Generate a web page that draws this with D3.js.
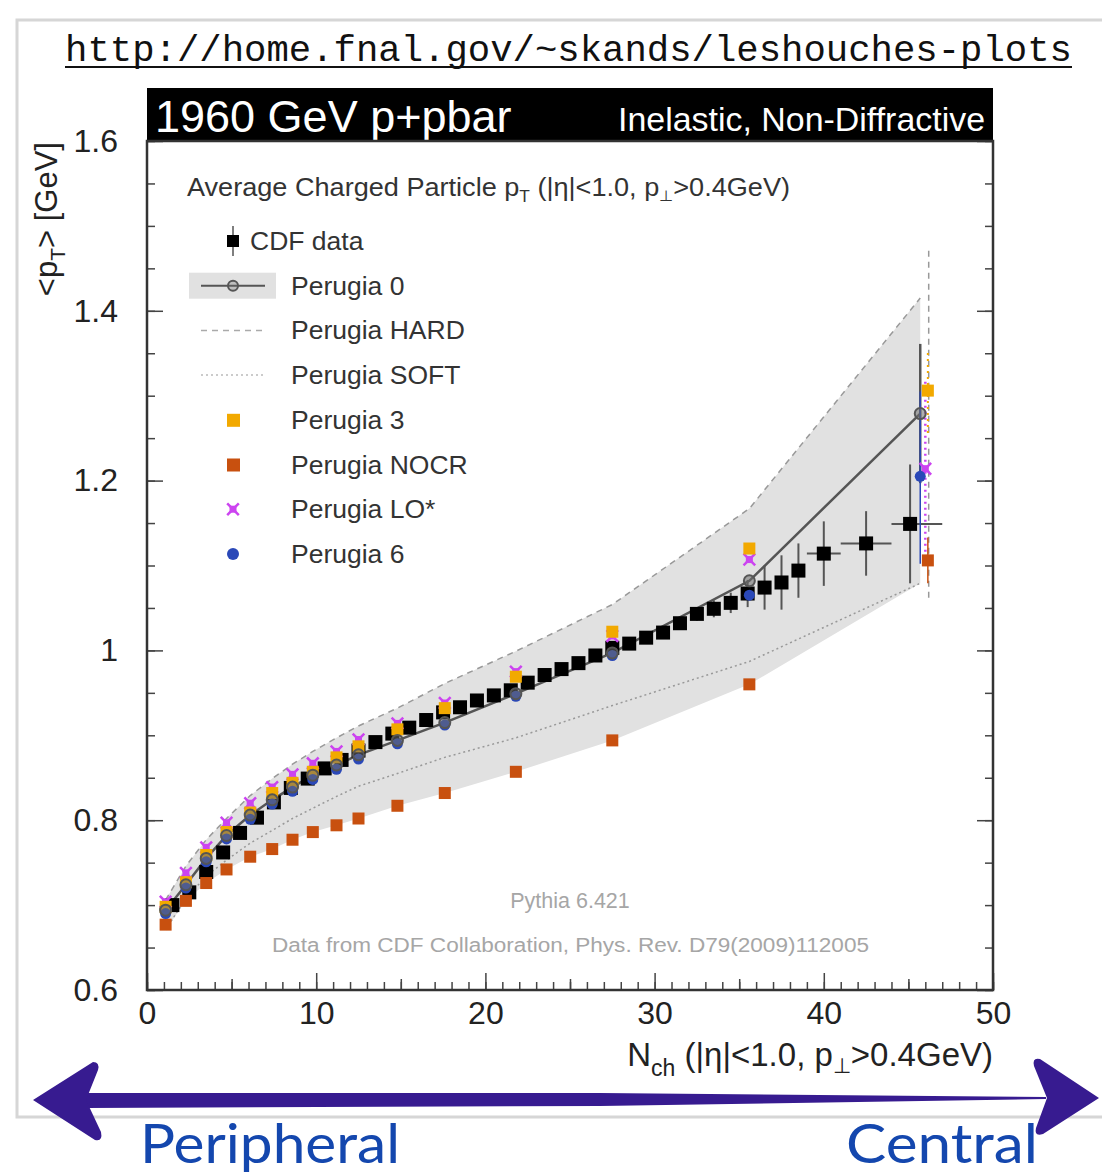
<!DOCTYPE html>
<html>
<head>
<meta charset="utf-8">
<script src="https://cdn.jsdelivr.net/npm/d3@7"></script>
<style>
body { margin: 0; background: #fff; }
text { font-family: "Liberation Sans", Arial, sans-serif; }
</style>
</head>
<body>
<div id="chart"></div>
<script>
// ---- values ----
// CDF data, <pT> vs Nch
var cdfX = [1.5, 2.5, 3.5, 4.5, 5.5, 6.5, 7.5, 8.5, 9.5, 10.5, 11.5, 12.5, 13.5, 14.5, 15.5, 16.5,
    17.5, 18.5, 19.5, 20.5, 21.5, 22.5, 23.5, 24.5, 25.5, 26.5, 27.5, 28.5, 29.5, 30.5, 31.5, 32.5,
    33.5, 34.5, 35.5, 36.5, 37.5, 38.5, 40, 42.5, 45.1];
var cdfY = [0.700, 0.715, 0.739, 0.762, 0.785, 0.803, 0.821, 0.838, 0.849, 0.861, 0.871, 0.882,
    0.892, 0.902, 0.909, 0.918, 0.927, 0.933, 0.941, 0.947, 0.953, 0.962, 0.971, 0.978, 0.985,
    0.994, 1.003, 1.008, 1.015, 1.021, 1.032, 1.043, 1.049, 1.056, 1.067, 1.074, 1.080, 1.094,
    1.114, 1.126, 1.149];
var cdfErr = [0.003, 0.003, 0.003, 0.003, 0.003, 0.003, 0.003, 0.003, 0.003, 0.003, 0.003, 0.003,
    0.003, 0.003, 0.003, 0.003, 0.003, 0.003, 0.003, 0.003, 0.003, 0.004, 0.004, 0.004, 0.004,
    0.005, 0.005, 0.005, 0.006, 0.006, 0.007, 0.008, 0.010, 0.012, 0.016, 0.026, 0.032, 0.032,
    0.038, 0.038, 0.070];
// wide bins at the end (last three points)
var cdfWideBins = [[39, 41], [41, 44], [44, 47]];

// generator tunes, same Nch bins
var mcX = [1.1, 2.3, 3.5, 4.7, 6.1, 7.4, 8.6, 9.8, 11.2, 12.5, 14.8, 17.6, 21.8, 27.5, 35.6, 45.7];
var perugia0 = [0.694, 0.724, 0.755, 0.782, 0.806, 0.824, 0.839, 0.853, 0.865, 0.877, 0.894, 0.915, 0.949, 0.997, 1.082, 1.279];
var perugiaHard = [0.706, 0.746, 0.777, 0.802, 0.829, 0.849, 0.866, 0.881, 0.897, 0.911, 0.932, 0.961, 0.999, 1.054, 1.167, 1.415];
var perugiaSoft = [0.671, 0.708, 0.734, 0.753, 0.773, 0.788, 0.802, 0.814, 0.828, 0.840, 0.855, 0.874, 0.897, 0.935, 0.987, 1.079];
var perugia3 = [0.698, 0.727, 0.759, 0.786, 0.809, 0.832, 0.844, 0.857, 0.874, 0.887, 0.907, 0.932, 0.969, 1.022, 1.120, 1.306];
var perugiaNocr = [0.677, 0.705, 0.726, 0.742, 0.757, 0.766, 0.777, 0.786, 0.794, 0.802, 0.817, 0.832, 0.857, 0.894, 0.960, 1.106];
var perugiaLo = [0.704, 0.738, 0.768, 0.797, 0.820, 0.839, 0.854, 0.867, 0.881, 0.895, 0.914, 0.938, 0.975, 1.017, 1.107, 1.214];
var perugia6 = [0.690, 0.720, 0.751, 0.778, 0.801, 0.819, 0.834, 0.848, 0.860, 0.872, 0.890, 0.912, 0.946, 0.994, 1.065, 1.205];

// last-bin statistical errors, order: P0, HARD, SOFT, P3, NOCR, LO*, P6
var lastBinX = [45.7, 46.2, 46.2, 46.15, 46.15, 46.0, 45.7];
var lastErrDown = [0.082, 0.353, 0, 0.050, 0.027, 0.112, 0.103];
var lastErrUp = [0.082, 0.059, 0, 0.047, 0.027, 0.107, 0.100];

var legendLabels = ['CDF data', 'Perugia 0', 'Perugia HARD', 'Perugia SOFT', 'Perugia 3', 'Perugia NOCR', 'Perugia LO*', 'Perugia 6'];
var xTicks = [0, 10, 20, 30, 40, 50];
var yTicks = [0.6, 0.8, 1, 1.2, 1.4, 1.6];

// ---- page ----
var width = 1102, height = 1176;
var svg = d3.select('#chart').append('svg')
    .attr('width', width)
    .attr('height', height);

// faint outer border of the slide picture
svg.append('path')
    .attr('d', 'M1102,20 H17 V1117 H1102')
    .attr('fill', 'none')
    .attr('stroke', '#d6d6d6')
    .attr('stroke-width', 3);

// url on top
svg.append('text')
    .text('http://home.fnal.gov/~skands/leshouches-plots')
    .attr('x', 65).attr('y', 61)
    .attr('textLength', 1007).attr('lengthAdjust', 'spacingAndGlyphs')
    .style('font-family', '"Liberation Mono", "DejaVu Sans Mono", monospace')
    .style('font-size', '37px')
    .attr('fill', '#111');
svg.append('line')
    .attr('x1', 65).attr('x2', 1072).attr('y1', 67).attr('y2', 67)
    .attr('stroke', '#111').attr('stroke-width', 2);

var x = d3.scaleLinear().domain([0, 50]).range([147, 993]);
var y = d3.scaleLinear().domain([0.6, 1.6]).range([990, 141]);

// black header strip
svg.append('rect')
    .attr('x', 147).attr('y', 88).attr('width', 846).attr('height', 53)
    .attr('fill', '#000');
svg.append('text').text('1960 GeV p+pbar')
    .attr('x', 155).attr('y', 132)
    .attr('fill', '#fff').style('font-size', '45px');
svg.append('text').text('Inelastic, Non-Diffractive')
    .attr('x', 985).attr('y', 131)
    .attr('text-anchor', 'end')
    .attr('textLength', 367).attr('lengthAdjust', 'spacingAndGlyphs')
    .attr('fill', '#fff').style('font-size', '33px');

// tunes envelope band
var tunes = [perugia0, perugiaHard, perugiaSoft, perugia3, perugiaNocr, perugiaLo, perugia6];
var band = mcX.map(function (v, i) {
    return {x: v, lo: d3.min(tunes, function (t) { return t[i]; }), hi: d3.max(tunes, function (t) { return t[i]; })};
});
svg.append('path')
    .datum(band)
    .attr('fill', '#e1e1e1')
    .attr('d', d3.area().x(function (d) { return x(d.x); })
        .y0(function (d) { return y(d.lo); })
        .y1(function (d) { return y(d.hi); }));

// axes, ROOT style ticks pointing inward
var axisG = svg.append('g').attr('class', 'axes');
function styleAxis(g) {
    g.select('.domain').remove();
    g.selectAll('line').attr('stroke', '#444').attr('stroke-width', 1.5);
    g.selectAll('text').style('font-size', '32px').attr('fill', '#222')
        .style('font-family', '"Liberation Sans", Arial, sans-serif');
}
axisG.append('g').attr('transform', 'translate(0,990)')
    .call(d3.axisBottom(x).tickValues(d3.range(0, 51, 1)).tickSize(-8).tickFormat(''))
    .call(styleAxis);
axisG.append('g').attr('transform', 'translate(0,990)')
    .call(d3.axisBottom(x).tickValues(d3.range(5, 50, 10)).tickSize(-11).tickFormat(''))
    .call(styleAxis);
axisG.append('g').attr('transform', 'translate(0,990)')
    .call(d3.axisBottom(x).tickValues(xTicks).tickSize(-17).tickPadding(11).tickFormat(d3.format('d')))
    .call(styleAxis);
axisG.append('g').attr('transform', 'translate(147,0)')
    .call(d3.axisLeft(y).tickValues(d3.range(0.6, 1.601, 0.05)).tickSize(-8).tickFormat(''))
    .call(styleAxis);
axisG.append('g').attr('transform', 'translate(147,0)')
    .call(d3.axisLeft(y).tickValues(yTicks).tickSize(-16).tickPadding(29).tickFormat(d3.format('~g')))
    .call(styleAxis);
axisG.append('g').attr('transform', 'translate(993,0)')
    .call(d3.axisRight(y).tickValues(d3.range(0.6, 1.601, 0.05)).tickSize(-8).tickFormat(''))
    .call(styleAxis);
axisG.append('g').attr('transform', 'translate(993,0)')
    .call(d3.axisRight(y).tickValues(yTicks).tickSize(-16).tickFormat(''))
    .call(styleAxis);

// frame
svg.append('rect')
    .attr('x', 147).attr('y', 141).attr('width', 846).attr('height', 849)
    .attr('fill', 'none').attr('stroke', '#333').attr('stroke-width', 2.5);

// axis titles
var xTitle = svg.append('text')
    .attr('x', 993).attr('y', 1066)
    .attr('text-anchor', 'end')
    .attr('fill', '#222').style('font-size', '33px');
xTitle.append('tspan').text('N');
xTitle.append('tspan').text('ch').attr('dy', 10).style('font-size', '23px');
xTitle.append('tspan').text(' (|η|<1.0, p').attr('dy', -10);
xTitle.append('tspan').text('⊥').attr('dy', 7).style('font-size', '21px');
xTitle.append('tspan').text('>0.4GeV)').attr('dy', -7);

var yTitle = svg.append('text')
    .attr('transform', 'translate(57,142) rotate(-90)')
    .attr('text-anchor', 'end')
    .attr('fill', '#222').style('font-size', '31px');
yTitle.append('tspan').text('<p');
yTitle.append('tspan').text('T').attr('dy', 8).style('font-size', '21px');
yTitle.append('tspan').text('> [GeV]').attr('dy', -8);

// tune lines
var line = d3.line().x(function (d) { return x(d[0]); }).y(function (d) { return y(d[1]); });
function pairs(arr) { return mcX.map(function (v, i) { return [v, arr[i]]; }); }

svg.append('path').attr('d', line(pairs(perugiaSoft)))
    .attr('fill', 'none').attr('stroke', '#999').attr('stroke-width', 1.5)
    .attr('stroke-dasharray', '2,3');
svg.append('path').attr('d', line(pairs(perugiaHard)))
    .attr('fill', 'none').attr('stroke', '#999').attr('stroke-width', 1.5)
    .attr('stroke-dasharray', '6,5');
svg.append('path').attr('d', line(pairs(perugia0)))
    .attr('fill', 'none').attr('stroke', '#555').attr('stroke-width', 2.5);

// CDF data points
var cdf = svg.append('g');
cdfX.forEach(function (v, i) {
    cdf.append('line')
        .attr('x1', x(v)).attr('x2', x(v))
        .attr('y1', y(cdfY[i] - cdfErr[i])).attr('y2', y(cdfY[i] + cdfErr[i]))
        .attr('stroke', '#555').attr('stroke-width', 2);
});
cdfWideBins.forEach(function (b, k) {
    var i = cdfX.length - cdfWideBins.length + k;
    cdf.append('line')
        .attr('x1', x(b[0])).attr('x2', x(b[1]))
        .attr('y1', y(cdfY[i])).attr('y2', y(cdfY[i]))
        .attr('stroke', '#555').attr('stroke-width', 2);
});
cdfX.forEach(function (v, i) {
    cdf.append('rect')
        .attr('x', x(v) - 7).attr('y', y(cdfY[i]) - 7)
        .attr('width', 14).attr('height', 14)
        .attr('fill', '#000');
});

// last bin error bars for the tunes
var errStyles = [
    {c: '#555', w: 2.5, dash: null},
    {c: '#999', w: 1.5, dash: '6,5'},
    {c: '#999', w: 1.5, dash: '2,3'},
    {c: '#f2a900', w: 2, dash: '2,4'},
    {c: '#c8500f', w: 1.5, dash: null},
    {c: '#cc44f0', w: 2.5, dash: '2,4'},
    {c: '#2a48b8', w: 1.5, dash: null}
];
tunes.forEach(function (t, k) {
    if (!lastErrUp[k] && !lastErrDown[k]) return;
    var v = t[t.length - 1];
    svg.append('line')
        .attr('x1', x(lastBinX[k])).attr('x2', x(lastBinX[k]))
        .attr('y1', y(v - lastErrDown[k])).attr('y2', y(v + lastErrUp[k]))
        .attr('stroke', errStyles[k].c).attr('stroke-width', errStyles[k].w)
        .attr('stroke-dasharray', errStyles[k].dash);
});

function xAt(i, k) { return i === mcX.length - 1 ? x(lastBinX[k]) : x(mcX[i]); }

// Perugia LO*
var crossSym = d3.symbol().type(d3.symbolTimes || d3.symbolCross).size(90);
var lo = svg.append('g');
perugiaLo.forEach(function (v, i) {
    var cx = xAt(i, 5);
    lo.append('path').attr('d', crossSym())
        .attr('transform', 'translate(' + cx + ',' + y(v) + ')')
        .attr('fill', 'none').attr('stroke', '#cc44f0').attr('stroke-width', 2.5);
    lo.append('rect').attr('x', cx - 3.5).attr('y', y(v) - 3.5).attr('width', 7).attr('height', 7)
        .attr('fill', '#cc44f0');
});

// Perugia 3 and NOCR squares
perugia3.forEach(function (v, i) {
    svg.append('rect').attr('x', xAt(i, 3) - 6).attr('y', y(v) - 6)
        .attr('width', 12).attr('height', 12).attr('fill', '#f2a900');
});
perugiaNocr.forEach(function (v, i) {
    svg.append('rect').attr('x', xAt(i, 4) - 6).attr('y', y(v) - 6)
        .attr('width', 12).attr('height', 12).attr('fill', '#c8500f');
});

// Perugia 6 and Perugia 0 circles
perugia6.forEach(function (v, i) {
    svg.append('circle').attr('cx', xAt(i, 6)).attr('cy', y(v)).attr('r', 5.5)
        .attr('fill', '#2a48b8');
});
perugia0.forEach(function (v, i) {
    svg.append('circle').attr('cx', xAt(i, 0)).attr('cy', y(v)).attr('r', 5.5)
        .attr('fill', 'rgba(110,110,110,0.55)').attr('stroke', '#555').attr('stroke-width', 2);
});

// legend
var leg = svg.append('g');
var legTitle = leg.append('text').attr('x', 187).attr('y', 196)
    .attr('textLength', 603).attr('lengthAdjust', 'spacingAndGlyphs')
    .attr('fill', '#333').style('font-size', '25px');
legTitle.append('tspan').text('Average Charged Particle p');
legTitle.append('tspan').text('T').attr('dy', 6).style('font-size', '16px');
legTitle.append('tspan').text(' (|η|<1.0, p').attr('dy', -6);
legTitle.append('tspan').text('⊥').attr('dy', 5).style('font-size', '15px');
legTitle.append('tspan').text('>0.4GeV)').attr('dy', -5);

var legY = function (i) { return 241 + i * 44.7; };
legendLabels.forEach(function (lab, i) {
    leg.append('text').text(lab)
        .attr('x', i === 0 ? 250 : 291).attr('y', legY(i) + 9)
        .attr('fill', '#333').style('font-size', '26.5px');
});
// CDF data
leg.append('line').attr('x1', 233).attr('x2', 233).attr('y1', legY(0) - 15).attr('y2', legY(0) + 15)
    .attr('stroke', '#555').attr('stroke-width', 1.5);
leg.append('rect').attr('x', 227).attr('y', legY(0) - 6).attr('width', 12).attr('height', 12).attr('fill', '#000');
// Perugia 0
leg.append('rect').attr('x', 189).attr('y', legY(1) - 13).attr('width', 87).attr('height', 26).attr('fill', '#e1e1e1');
leg.append('line').attr('x1', 201).attr('x2', 265).attr('y1', legY(1)).attr('y2', legY(1))
    .attr('stroke', '#555').attr('stroke-width', 2);
leg.append('circle').attr('cx', 233).attr('cy', legY(1)).attr('r', 5)
    .attr('fill', 'rgba(110,110,110,0.3)').attr('stroke', '#555').attr('stroke-width', 2);
// HARD, SOFT
leg.append('line').attr('x1', 201).attr('x2', 265).attr('y1', legY(2)).attr('y2', legY(2))
    .attr('stroke', '#aaa').attr('stroke-width', 1.5).attr('stroke-dasharray', '6,5');
leg.append('line').attr('x1', 201).attr('x2', 265).attr('y1', legY(3)).attr('y2', legY(3))
    .attr('stroke', '#bbb').attr('stroke-width', 1.5).attr('stroke-dasharray', '2,3');
// P3, NOCR
leg.append('rect').attr('x', 227).attr('y', legY(4) - 6).attr('width', 13).attr('height', 13).attr('fill', '#f2a900');
leg.append('rect').attr('x', 227).attr('y', legY(5) - 6).attr('width', 13).attr('height', 13).attr('fill', '#c8500f');
// LO*
leg.append('path').attr('d', crossSym()).attr('transform', 'translate(233,' + legY(6) + ')')
    .attr('fill', 'none').attr('stroke', '#cc44f0').attr('stroke-width', 2.5);
leg.append('rect').attr('x', 229.5).attr('y', legY(6) - 3.5).attr('width', 7).attr('height', 7).attr('fill', '#cc44f0');
// P6
leg.append('circle').attr('cx', 233).attr('cy', legY(7)).attr('r', 6).attr('fill', '#2a48b8');

// generator / reference notes
svg.append('text').text('Pythia 6.421')
    .attr('x', 570).attr('y', 908).attr('text-anchor', 'middle')
    .attr('fill', '#a6a6a6').style('font-size', '21.5px');
svg.append('text').text('Data from CDF Collaboration, Phys. Rev. D79(2009)112005')
    .attr('x', 272).attr('y', 952)
    .attr('textLength', 597).attr('lengthAdjust', 'spacingAndGlyphs')
    .attr('fill', '#a6a6a6').style('font-size', '20px');

// peripheral <-> central arrow
var arrowColor = '#371b90';
svg.append('path')
    .attr('d', 'M86,1093 L600,1093 L1046,1097 L1046,1099 L600,1106 L86,1108 Z')
    .attr('fill', arrowColor);
svg.append('path')
    .attr('d', 'M33,1100 L93,1062 Q100,1062 98,1070 L86,1100 L101,1132 Q103,1142 95,1140 Z')
    .attr('fill', arrowColor);
svg.append('path')
    .attr('d', 'M1099,1098 L1040,1059 Q1032,1057 1034,1066 L1047,1098 L1036,1128 Q1034,1137 1043,1134 Z')
    .attr('fill', arrowColor);

svg.append('text').text('Peripheral')
    .attr('x', 140).attr('y', 1163)
    .attr('textLength', 260).attr('lengthAdjust', 'spacingAndGlyphs')
    .attr('fill', '#1447ae')
    .style('font-family', 'Lato, "Open Sans", sans-serif').style('font-size', '55px');
svg.append('text').text('Central')
    .attr('x', 846).attr('y', 1163)
    .attr('textLength', 192).attr('lengthAdjust', 'spacingAndGlyphs')
    .attr('fill', '#1447ae')
    .style('font-family', 'Lato, "Open Sans", sans-serif').style('font-size', '55px');
</script>
</body>
</html>
